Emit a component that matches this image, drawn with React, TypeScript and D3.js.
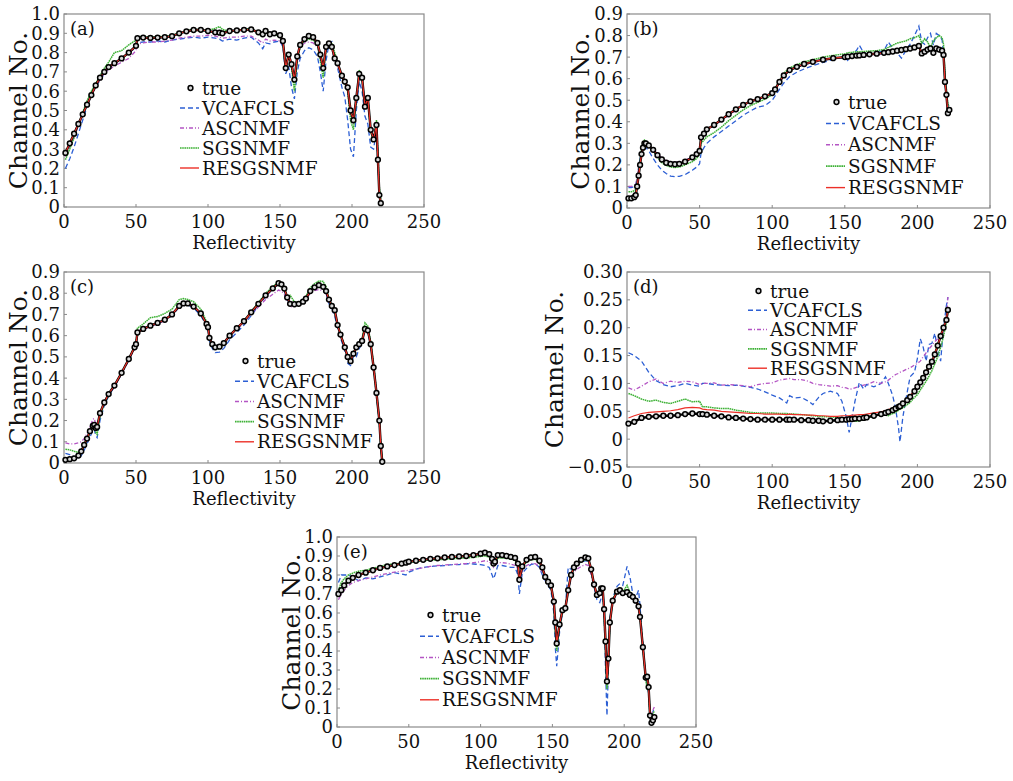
import React from 'react';
import * as d3 from 'd3';

// ---------- shared tick labels ----------
const xTicks = [0, 50, 100, 150, 200, 250];
const yTicks10 = [0, 0.1, 0.2, 0.3, 0.4, 0.5, 0.6, 0.7, 0.8, 0.9, 1.0];
const yTicks09 = [0, 0.1, 0.2, 0.3, 0.4, 0.5, 0.6, 0.7, 0.8, 0.9];
const yTicksD = [-0.05, 0, 0.05, 0.1, 0.15, 0.2, 0.25, 0.3];
const seriesNames = ['true', 'VCAFCLS', 'ASCNMF', 'SGSNMF', 'RESGSNMF'];

// ---------- panel (a) ----------
const aX = [1,4,7,10,13,16,19,22,25,28,31,35,40,45,50,51,55,60,65,70,75,80,85,90,95,100,105,108,110,115,120,125,130,135,138,140,143,146,150,152,154,156,158,160,162,164,167,170,173,176,178,180,182,184,186,188,190,193,195,197,199,201,203,205,207,209,211,213,215,217,218,219,220];
const aTrue = [0.28,0.33,0.38,0.43,0.48,0.53,0.58,0.63,0.67,0.70,0.725,0.745,0.77,0.80,0.835,0.875,0.878,0.876,0.878,0.88,0.885,0.9,0.91,0.917,0.918,0.912,0.905,0.903,0.9,0.912,0.915,0.918,0.92,0.905,0.895,0.912,0.895,0.9,0.89,0.86,0.72,0.79,0.74,0.66,0.78,0.84,0.87,0.886,0.88,0.85,0.79,0.72,0.83,0.848,0.83,0.77,0.745,0.68,0.65,0.62,0.5,0.45,0.565,0.69,0.67,0.52,0.565,0.40,0.35,0.425,0.245,0.062,0.02];
const aVCA = [0.2,0.25,0.31,0.38,0.45,0.52,0.58,0.625,0.655,0.69,0.72,0.745,0.77,0.8,0.825,0.85,0.855,0.855,0.86,0.855,0.865,0.87,0.875,0.88,0.875,0.88,0.875,0.87,0.86,0.87,0.865,0.875,0.88,0.85,0.82,0.85,0.845,0.855,0.86,0.83,0.69,0.73,0.62,0.56,0.7,0.77,0.81,0.825,0.815,0.78,0.7,0.6,0.76,0.845,0.857,0.77,0.72,0.62,0.57,0.45,0.3,0.26,0.5,0.65,0.6,0.47,0.43,0.31,0.3,0.4,0.22,0.08,0.06];
const aASC = [0.26,0.31,0.36,0.42,0.48,0.53,0.58,0.62,0.66,0.69,0.71,0.73,0.75,0.77,0.81,0.845,0.85,0.855,0.855,0.86,0.865,0.875,0.88,0.885,0.885,0.89,0.885,0.88,0.875,0.88,0.88,0.885,0.885,0.865,0.85,0.87,0.86,0.865,0.86,0.84,0.72,0.78,0.73,0.66,0.77,0.83,0.85,0.855,0.85,0.83,0.77,0.7,0.82,0.84,0.82,0.76,0.73,0.67,0.64,0.6,0.48,0.43,0.55,0.68,0.66,0.51,0.56,0.4,0.35,0.42,0.26,0.09,0.05];
const aSGS = [0.245,0.3,0.36,0.43,0.49,0.55,0.6,0.64,0.68,0.72,0.75,0.8,0.81,0.84,0.865,0.88,0.885,0.88,0.882,0.885,0.89,0.9,0.915,0.92,0.92,0.915,0.925,0.935,0.92,0.91,0.915,0.92,0.925,0.9,0.89,0.905,0.89,0.895,0.88,0.85,0.71,0.8,0.72,0.6,0.76,0.83,0.86,0.87,0.865,0.84,0.76,0.67,0.82,0.85,0.85,0.8,0.75,0.67,0.64,0.6,0.45,0.4,0.55,0.71,0.67,0.51,0.56,0.39,0.34,0.45,0.27,0.1,0.04];
const aRES = [0.28,0.33,0.38,0.43,0.48,0.53,0.58,0.63,0.67,0.70,0.725,0.745,0.77,0.80,0.835,0.875,0.878,0.876,0.878,0.88,0.885,0.9,0.91,0.917,0.918,0.912,0.905,0.903,0.9,0.912,0.915,0.918,0.92,0.905,0.895,0.912,0.895,0.9,0.89,0.86,0.72,0.79,0.74,0.66,0.78,0.84,0.87,0.886,0.88,0.85,0.79,0.72,0.83,0.848,0.83,0.77,0.745,0.68,0.65,0.62,0.5,0.45,0.565,0.69,0.67,0.52,0.565,0.40,0.35,0.425,0.245,0.062,0.02];

// ---------- panel (b) ----------
const bX = [1,3,5,6,7,8,9,10,11,12,13,15,18,21,24,27,30,33,36,40,45,48,50,51,53,55,60,65,70,75,80,85,90,95,100,102,105,108,112,117,122,128,135,142,150,152,155,158,160,163,167,172,177,180,183,186,189,192,195,198,201,203,205,207,209,211,213,215,217,218,219,220,221,222];
const bTrue = [0.045,0.045,0.05,0.06,0.1,0.15,0.2,0.25,0.28,0.3,0.3,0.29,0.27,0.245,0.225,0.21,0.205,0.203,0.205,0.215,0.235,0.25,0.265,0.328,0.345,0.365,0.385,0.41,0.435,0.458,0.478,0.495,0.505,0.518,0.533,0.55,0.585,0.615,0.64,0.655,0.668,0.678,0.688,0.695,0.7,0.702,0.705,0.707,0.708,0.71,0.713,0.716,0.72,0.723,0.726,0.73,0.733,0.737,0.74,0.745,0.752,0.717,0.725,0.735,0.74,0.72,0.74,0.735,0.73,0.71,0.585,0.525,0.44,0.455];
const bVCA = [0.095,0.095,0.1,0.1,0.14,0.19,0.23,0.26,0.28,0.285,0.28,0.265,0.23,0.2,0.175,0.16,0.148,0.145,0.147,0.155,0.175,0.19,0.205,0.255,0.28,0.3,0.33,0.355,0.38,0.405,0.43,0.45,0.468,0.475,0.5,0.52,0.55,0.58,0.61,0.63,0.645,0.66,0.675,0.69,0.7,0.685,0.72,0.73,0.755,0.72,0.71,0.72,0.73,0.77,0.74,0.72,0.695,0.73,0.76,0.8,0.844,0.77,0.76,0.79,0.81,0.755,0.81,0.8,0.78,0.72,0.6,0.54,0.46,0.45];
const bASC = [0.1,0.1,0.105,0.11,0.14,0.19,0.23,0.27,0.295,0.305,0.305,0.292,0.272,0.25,0.232,0.22,0.215,0.213,0.215,0.222,0.238,0.252,0.265,0.325,0.342,0.36,0.382,0.405,0.43,0.452,0.475,0.49,0.5,0.513,0.528,0.548,0.582,0.612,0.638,0.652,0.665,0.675,0.685,0.692,0.698,0.7,0.702,0.703,0.705,0.706,0.708,0.71,0.715,0.72,0.722,0.725,0.728,0.732,0.736,0.74,0.745,0.715,0.72,0.73,0.735,0.715,0.735,0.73,0.725,0.7,0.58,0.52,0.43,0.44];
const bSGS = [0.075,0.075,0.08,0.085,0.12,0.17,0.22,0.27,0.3,0.315,0.31,0.295,0.265,0.235,0.21,0.197,0.19,0.188,0.19,0.2,0.215,0.23,0.25,0.3,0.315,0.33,0.35,0.375,0.405,0.43,0.455,0.475,0.49,0.505,0.525,0.555,0.59,0.625,0.65,0.665,0.678,0.688,0.7,0.708,0.715,0.72,0.722,0.725,0.725,0.726,0.728,0.73,0.735,0.745,0.755,0.765,0.77,0.775,0.785,0.79,0.8,0.765,0.785,0.77,0.745,0.775,0.79,0.8,0.79,0.76,0.62,0.55,0.48,0.475];
const bRES = [0.045,0.045,0.05,0.06,0.1,0.15,0.2,0.25,0.28,0.3,0.3,0.29,0.27,0.245,0.225,0.21,0.205,0.203,0.205,0.215,0.235,0.25,0.265,0.328,0.345,0.365,0.385,0.41,0.435,0.458,0.478,0.495,0.505,0.518,0.533,0.55,0.585,0.615,0.64,0.655,0.668,0.678,0.688,0.695,0.7,0.702,0.705,0.707,0.708,0.71,0.713,0.716,0.72,0.723,0.726,0.73,0.733,0.737,0.74,0.745,0.752,0.717,0.725,0.735,0.74,0.72,0.74,0.735,0.73,0.71,0.585,0.525,0.44,0.455];

// ---------- panel (c) ----------
const cX = [1,4,7,10,12,14,16,18,20,21,22,23,25,28,31,35,40,45,49,50,51,55,60,65,70,75,80,83,86,90,95,99,100,101,103,105,108,111,115,120,125,130,135,140,145,149,151,153,155,157,160,163,166,168,171,174,177,180,182,184,186,188,190,192,195,197,199,201,203,205,207,209,211,213,215,217,219,220,221];
const cTrue = [0.015,0.018,0.022,0.035,0.055,0.085,0.115,0.15,0.175,0.18,0.165,0.17,0.235,0.285,0.325,0.365,0.425,0.49,0.545,0.56,0.615,0.632,0.647,0.66,0.675,0.7,0.74,0.752,0.752,0.737,0.705,0.655,0.64,0.59,0.56,0.545,0.548,0.565,0.6,0.635,0.668,0.71,0.75,0.79,0.823,0.847,0.842,0.822,0.78,0.75,0.748,0.75,0.76,0.775,0.81,0.828,0.838,0.83,0.81,0.77,0.74,0.72,0.65,0.605,0.545,0.5,0.48,0.515,0.545,0.56,0.575,0.632,0.625,0.56,0.45,0.33,0.2,0.08,0.006];
const cVCA = [0.045,0.04,0.03,0.02,0.035,0.06,0.09,0.12,0.155,0.16,0.13,0.12,0.2,0.27,0.315,0.36,0.42,0.485,0.54,0.555,0.62,0.63,0.645,0.655,0.67,0.695,0.735,0.745,0.745,0.73,0.695,0.645,0.63,0.575,0.54,0.52,0.522,0.54,0.58,0.615,0.65,0.695,0.74,0.785,0.82,0.845,0.84,0.815,0.77,0.75,0.745,0.75,0.76,0.775,0.81,0.828,0.835,0.825,0.8,0.75,0.73,0.69,0.64,0.59,0.53,0.47,0.46,0.5,0.5,0.54,0.56,0.63,0.62,0.55,0.44,0.32,0.19,0.08,0.01];
const cASC = [0.095,0.09,0.09,0.095,0.1,0.115,0.14,0.17,0.205,0.21,0.185,0.175,0.23,0.28,0.32,0.36,0.42,0.485,0.54,0.555,0.615,0.628,0.645,0.655,0.67,0.695,0.735,0.745,0.745,0.735,0.705,0.655,0.64,0.59,0.56,0.545,0.55,0.565,0.6,0.63,0.66,0.7,0.735,0.77,0.795,0.815,0.81,0.795,0.76,0.735,0.74,0.745,0.755,0.77,0.8,0.812,0.818,0.81,0.795,0.755,0.735,0.7,0.65,0.605,0.545,0.505,0.485,0.515,0.545,0.56,0.575,0.63,0.625,0.565,0.46,0.34,0.21,0.1,0.055];
const cSGS = [0.065,0.062,0.055,0.05,0.06,0.08,0.11,0.145,0.18,0.175,0.145,0.135,0.22,0.28,0.32,0.365,0.425,0.49,0.545,0.56,0.635,0.655,0.685,0.69,0.705,0.725,0.77,0.775,0.77,0.76,0.725,0.665,0.65,0.59,0.55,0.535,0.54,0.56,0.6,0.635,0.67,0.715,0.755,0.8,0.83,0.855,0.85,0.83,0.775,0.79,0.76,0.758,0.77,0.785,0.825,0.845,0.858,0.855,0.83,0.77,0.745,0.705,0.655,0.61,0.55,0.5,0.49,0.52,0.55,0.57,0.585,0.66,0.645,0.57,0.46,0.33,0.2,0.08,0.02];
const cRES = [0.015,0.018,0.022,0.035,0.055,0.085,0.115,0.15,0.175,0.18,0.165,0.17,0.235,0.285,0.325,0.365,0.425,0.49,0.545,0.56,0.615,0.632,0.647,0.66,0.675,0.7,0.74,0.752,0.752,0.737,0.705,0.655,0.64,0.59,0.56,0.545,0.548,0.565,0.6,0.635,0.668,0.71,0.75,0.79,0.823,0.847,0.842,0.822,0.78,0.75,0.748,0.75,0.76,0.775,0.81,0.828,0.838,0.83,0.81,0.77,0.74,0.72,0.65,0.605,0.545,0.5,0.48,0.515,0.545,0.56,0.575,0.632,0.625,0.56,0.45,0.33,0.2,0.08,0.006];

// ---------- panel (d) ----------
const dX = [1,5,10,15,20,25,30,35,40,45,50,52,55,60,65,70,75,80,85,90,95,100,105,110,112,115,120,125,128,132,135,140,145,148,151,153,155,157,160,163,165,170,175,178,180,183,185,187,188,190,193,195,198,200,202,204,206,208,210,212,214,216,218,220,221];
const dTrue = [0.028,0.031,0.038,0.04,0.041,0.042,0.042,0.043,0.045,0.046,0.045,0.045,0.044,0.042,0.041,0.039,0.038,0.037,0.036,0.035,0.035,0.035,0.035,0.035,0.035,0.035,0.034,0.034,0.033,0.033,0.032,0.033,0.034,0.035,0.035,0.036,0.036,0.037,0.037,0.038,0.039,0.042,0.045,0.047,0.049,0.052,0.055,0.058,0.059,0.064,0.07,0.076,0.086,0.094,0.102,0.11,0.12,0.13,0.139,0.152,0.168,0.185,0.2,0.214,0.232];
const dVCA = [0.155,0.15,0.14,0.12,0.105,0.098,0.094,0.096,0.1,0.097,0.095,0.1,0.1,0.098,0.097,0.096,0.097,0.095,0.093,0.09,0.085,0.079,0.074,0.065,0.078,0.074,0.075,0.068,0.062,0.075,0.082,0.086,0.082,0.068,0.04,0.012,0.04,0.068,0.102,0.09,0.098,0.094,0.1,0.112,0.1,0.078,0.055,0.02,-0.005,0.04,0.085,0.112,0.12,0.145,0.18,0.165,0.14,0.17,0.172,0.19,0.16,0.14,0.2,0.24,0.255];
const dASC = [0.092,0.088,0.095,0.103,0.108,0.1,0.104,0.102,0.104,0.103,0.098,0.1,0.1,0.101,0.097,0.098,0.097,0.096,0.094,0.098,0.1,0.101,0.106,0.108,0.109,0.107,0.107,0.104,0.1,0.098,0.097,0.095,0.096,0.093,0.092,0.09,0.09,0.092,0.095,0.097,0.098,0.103,0.1,0.103,0.106,0.112,0.116,0.118,0.12,0.122,0.126,0.128,0.133,0.136,0.14,0.148,0.155,0.162,0.168,0.175,0.18,0.185,0.19,0.22,0.255];
const dSGS = [0.082,0.078,0.072,0.068,0.07,0.066,0.064,0.068,0.072,0.067,0.068,0.058,0.058,0.056,0.055,0.055,0.052,0.05,0.048,0.047,0.047,0.047,0.046,0.046,0.045,0.045,0.044,0.043,0.042,0.041,0.04,0.04,0.039,0.038,0.037,0.036,0.034,0.032,0.033,0.035,0.037,0.042,0.044,0.043,0.042,0.046,0.048,0.052,0.054,0.056,0.062,0.066,0.075,0.08,0.088,0.096,0.104,0.113,0.123,0.135,0.148,0.165,0.185,0.21,0.228];
const dRES = [0.038,0.042,0.046,0.048,0.049,0.05,0.051,0.053,0.056,0.057,0.056,0.054,0.053,0.052,0.05,0.049,0.048,0.047,0.046,0.046,0.045,0.045,0.045,0.044,0.045,0.044,0.044,0.043,0.043,0.042,0.042,0.041,0.041,0.042,0.042,0.042,0.043,0.043,0.044,0.044,0.045,0.047,0.049,0.051,0.053,0.056,0.058,0.06,0.061,0.065,0.071,0.077,0.087,0.095,0.103,0.111,0.12,0.13,0.14,0.153,0.168,0.185,0.2,0.215,0.235];

// ---------- panel (e) ----------
const eX = [1,3,5,8,11,15,20,25,30,35,40,45,48,50,55,60,65,70,75,80,85,90,95,100,103,106,108,109,110,112,115,118,121,124,126,127,129,132,135,138,141,143,145,147,149,151,152,153,155,157,159,161,163,165,167,170,173,175,177,179,181,183,184,185,186,187,188,189,190,192,195,197,199,202,204,206,208,210,211,213,215,216,217,218,219,220,221];
const eTrue = [0.7,0.72,0.745,0.77,0.785,0.8,0.812,0.825,0.837,0.845,0.852,0.86,0.865,0.87,0.875,0.88,0.885,0.888,0.892,0.895,0.898,0.9,0.905,0.912,0.918,0.91,0.885,0.86,0.87,0.905,0.905,0.9,0.895,0.89,0.86,0.775,0.845,0.88,0.892,0.895,0.875,0.84,0.79,0.765,0.745,0.66,0.55,0.44,0.54,0.615,0.625,0.72,0.8,0.84,0.86,0.88,0.893,0.888,0.83,0.75,0.695,0.705,0.73,0.73,0.62,0.45,0.24,0.36,0.55,0.665,0.712,0.72,0.705,0.71,0.695,0.685,0.665,0.635,0.58,0.42,0.26,0.265,0.21,0.06,0.022,0.035,0.052];
const eVCA = [0.76,0.8,0.8,0.8,0.79,0.77,0.785,0.78,0.79,0.8,0.812,0.805,0.8,0.815,0.83,0.84,0.845,0.848,0.85,0.855,0.855,0.86,0.858,0.855,0.85,0.84,0.8,0.78,0.8,0.85,0.85,0.845,0.84,0.84,0.8,0.7,0.81,0.835,0.855,0.86,0.84,0.8,0.77,0.745,0.72,0.6,0.42,0.32,0.5,0.6,0.62,0.84,0.83,0.84,0.85,0.87,0.875,0.87,0.83,0.74,0.67,0.655,0.68,0.73,0.6,0.3,0.06,0.3,0.57,0.68,0.74,0.755,0.745,0.845,0.79,0.7,0.68,0.72,0.64,0.43,0.26,0.22,0.18,0.07,0.05,0.08,0.1];
const eASC = [0.67,0.7,0.72,0.745,0.76,0.77,0.78,0.79,0.8,0.808,0.815,0.82,0.822,0.825,0.832,0.838,0.845,0.85,0.853,0.855,0.858,0.86,0.865,0.87,0.875,0.87,0.855,0.84,0.85,0.865,0.865,0.862,0.858,0.85,0.83,0.77,0.82,0.85,0.86,0.86,0.845,0.815,0.775,0.755,0.735,0.655,0.55,0.45,0.54,0.61,0.62,0.71,0.78,0.815,0.83,0.845,0.855,0.85,0.8,0.735,0.685,0.695,0.72,0.72,0.615,0.45,0.25,0.37,0.55,0.66,0.705,0.715,0.7,0.705,0.69,0.68,0.66,0.63,0.58,0.43,0.27,0.26,0.22,0.07,0.06,0.09,0.105];
const eSGS = [0.72,0.76,0.78,0.8,0.81,0.82,0.825,0.835,0.845,0.855,0.858,0.862,0.865,0.866,0.872,0.876,0.878,0.88,0.883,0.885,0.888,0.89,0.893,0.898,0.9,0.895,0.87,0.855,0.865,0.89,0.89,0.888,0.884,0.878,0.85,0.78,0.835,0.87,0.88,0.882,0.862,0.83,0.78,0.76,0.74,0.65,0.5,0.4,0.53,0.61,0.625,0.72,0.795,0.83,0.85,0.87,0.88,0.878,0.82,0.745,0.69,0.7,0.725,0.72,0.61,0.4,0.2,0.35,0.55,0.67,0.72,0.725,0.71,0.745,0.71,0.69,0.67,0.64,0.585,0.42,0.25,0.2,0.19,0.06,0.05,0.07,0.085];
const eRES = [0.7,0.72,0.745,0.77,0.785,0.8,0.812,0.825,0.837,0.845,0.852,0.86,0.865,0.87,0.875,0.88,0.885,0.888,0.892,0.895,0.898,0.9,0.905,0.912,0.918,0.91,0.885,0.86,0.87,0.905,0.905,0.9,0.895,0.89,0.86,0.775,0.845,0.88,0.892,0.895,0.875,0.84,0.79,0.765,0.745,0.66,0.55,0.44,0.54,0.615,0.625,0.72,0.8,0.84,0.86,0.88,0.893,0.888,0.83,0.75,0.695,0.705,0.73,0.73,0.62,0.45,0.24,0.36,0.55,0.665,0.712,0.72,0.705,0.71,0.695,0.685,0.665,0.635,0.58,0.42,0.26,0.265,0.21,0.06,0.022,0.035,0.052];

// ---------- styling ----------
const FONT = "'DejaVu Serif', serif";
const FS = 18;      // ticks + x label
const FS_LEG = 18.5;
const FS_Y = 25;    // y-axis title
const styles = [
  { color: '#000000', dash: '', width: 0 },
  { color: '#2c5fd4', dash: '5,3', width: 1.3 },
  { color: '#b455c4', dash: '4,2,1,2', width: 1.3 },
  { color: '#3db135', dash: '1.6,0.6', width: 1.5 },
  { color: '#ec3028', dash: '', width: 1.2 },
];

type Cfg = {
  label: string;
  left: number; top: number; width: number; height: number;
  yDomain: [number, number];
  yTicks: number[];
  fmt: (v: number) => string;
  ylabelX: number;
  xs: number[];
  series: number[][]; // true, VCA, ASC, SGS, RES
  legX: number; legY: number; legStep: number;
};

const fmt1 = (v: number) => (Math.abs(v) < 1e-9 ? '0' : v.toFixed(1));
const fmt2 = (v: number) => (Math.abs(v) < 1e-9 ? '0' : (v < 0 ? '\u2212' + Math.abs(v).toFixed(2) : v.toFixed(2)));

function Panel({ c }: { c: Cfg }) {
  const x = d3.scaleLinear().domain([0, 250]).range([c.left, c.left + c.width]);
  const y = d3.scaleLinear().domain(c.yDomain).range([c.top + c.height, c.top]);
  const n = Math.min(c.xs.length, ...c.series.map(s => s.length));
  const pts = (s: number[]) => d3.range(n).map(i => [x(c.xs[i]), y(s[i])] as [number, number]);
  const lineGen = d3.line<[number, number]>();
  const bottom = c.top + c.height;
  const order = [1, 2, 3];
  return (
    <g>
      <rect x={c.left} y={c.top} width={c.width} height={c.height} fill="none" stroke="#8a8a8a" strokeWidth={1.2} />
      {xTicks.map(t => (
        <g key={'xt' + t}>
          <line x1={x(t)} x2={x(t)} y1={bottom} y2={bottom - 3} stroke="#8a8a8a" />
          <text x={x(t)} y={bottom + 21} textAnchor="middle" fontFamily={FONT} fontSize={FS} fill="#111">{t}</text>
        </g>
      ))}
      {c.yTicks.map(t => (
        <g key={'yt' + t}>
          <line x1={c.left} x2={c.left + 3} y1={y(t)} y2={y(t)} stroke="#8a8a8a" />
          <text x={c.left - 4} y={y(t)} dy="0.36em" textAnchor="end" fontFamily={FONT} fontSize={FS} fill="#111">{c.fmt(t)}</text>
        </g>
      ))}
      <text x={c.left + c.width / 2} y={bottom + 42} textAnchor="middle" fontFamily={FONT} fontSize={FS} fill="#111">Reflectivity</text>
      <text transform={`translate(${c.ylabelX},${c.top + c.height / 2}) rotate(-90)`} dy="0.36em" textAnchor="middle" fontFamily={FONT} fontSize={FS_Y} fill="#111">Channel No.</text>
      <text x={c.left + 6} y={c.top + 21} fontFamily={FONT} fontSize={FS} fill="#111">{c.label}</text>
      {order.map(k => (
        <path key={'s' + k} d={lineGen(pts(c.series[k])) || ''} fill="none" stroke={styles[k].color} strokeWidth={styles[k].width} strokeDasharray={styles[k].dash} />
      ))}
      <path d={lineGen(pts(c.series[0])) || ''} fill="none" stroke="#000" strokeWidth={2.4} strokeLinejoin="round" />
      <path d={lineGen(pts(c.series[4])) || ''} fill="none" stroke={styles[4].color} strokeWidth={styles[4].width} />
      {pts(c.series[0]).map((p, i) => (
        <circle key={'m' + i} cx={p[0]} cy={p[1]} r={2.4} fill="#d8d8d8" stroke="#000" strokeWidth={1.5} />
      ))}
      {seriesNames.map((nm, i) => {
        const yy = c.legY + i * c.legStep;
        const x0 = c.legX - 22, x1 = c.legX - 3;
        return (
          <g key={'lg' + i}>
            {i === 0 ? (
              <circle cx={(x0 + x1) / 2 + 1} cy={yy} r={2.4} fill="#d8d8d8" stroke="#000" strokeWidth={1.5} />
            ) : (
              <line x1={x0} x2={x1} y1={yy} y2={yy} stroke={styles[i].color} strokeWidth={styles[i].width + 0.2} strokeDasharray={styles[i].dash} />
            )}
            <text x={c.legX} y={yy} dy="0.36em" fontFamily={FONT} fontSize={FS_LEG} fill="#111">{nm}</text>
          </g>
        );
      })}
    </g>
  );
}

const panels: Cfg[] = [
  { label: '(a)', left: 64, top: 14, width: 360, height: 193, yDomain: [0, 1], yTicks: yTicks10, fmt: fmt1, ylabelX: 18,
    xs: aX, series: [aTrue, aVCA, aASC, aSGS, aRES], legX: 202, legY: 88, legStep: 20 },
  { label: '(b)', left: 627, top: 14, width: 363, height: 194, yDomain: [0, 0.9], yTicks: yTicks09, fmt: fmt1, ylabelX: 580,
    xs: bX, series: [bTrue, bVCA, bASC, bSGS, bRES], legX: 848, legY: 102, legStep: 21.4 },
  { label: '(c)', left: 64, top: 272, width: 360, height: 191, yDomain: [0, 0.9], yTicks: yTicks09, fmt: fmt1, ylabelX: 18,
    xs: cX, series: [cTrue, cVCA, cASC, cSGS, cRES], legX: 257, legY: 361, legStep: 20.2 },
  { label: '(d)', left: 627, top: 272, width: 363, height: 195, yDomain: [-0.05, 0.3], yTicks: yTicksD, fmt: fmt2, ylabelX: 554,
    xs: dX, series: [dTrue, dVCA, dASC, dSGS, dRES], legX: 770, legY: 291, legStep: 19.3 },
  { label: '(e)', left: 337, top: 537, width: 359, height: 190, yDomain: [0, 1], yTicks: yTicks10, fmt: fmt1, ylabelX: 291,
    xs: eX, series: [eTrue, eVCA, eASC, eSGS, eRES], legX: 442, legY: 615, legStep: 21.2 },
];

export default function App() {
  return (
    <svg width={1013} height={781} viewBox="0 0 1013 781" style={{ position: 'absolute', left: 0, top: 0, background: '#fff' }}>
      <rect x={0} y={0} width={1013} height={781} fill="#fff" />
      {panels.map(p => <Panel key={p.label} c={p} />)}
    </svg>
  );
}
